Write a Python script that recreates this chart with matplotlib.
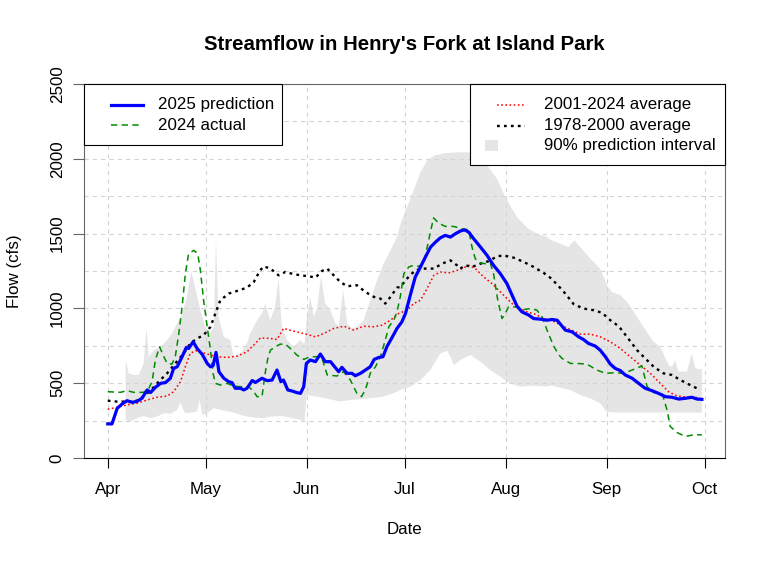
import numpy as np
import matplotlib
matplotlib.use("Agg")
import matplotlib.pyplot as plt
from matplotlib.patches import Rectangle
from matplotlib.lines import Line2D

plt.rcParams['font.family'] = ['Liberation Sans', 'DejaVu Sans']
plt.rcParams['lines.scale_dashes'] = False

# days since Apr 1
pred_days = [0, 1.3, 2.9, 4.4, 5.9, 7.5, 9, 10.5, 12.1, 13.1, 14.6, 16.2, 17.7, 19.2, 20.2, 21.3,
             22.8, 24.1, 24.8, 26.2, 27.4, 29, 30.5, 31.5, 32.3, 33.2, 34.1, 35.6, 37.1, 38.1, 39.1,
             40.7, 41.7, 42.7, 44.3, 45.3, 47.3, 48.9, 50.4, 51.9, 53.1, 53.9, 55.2, 56.5, 58, 59.1,
             60.1, 60.9, 62.1, 63.7, 65.2, 66.7, 68.3, 69.3, 70.8, 71.8, 73.4, 74.9, 75.9, 77.5, 79,
             80.5, 81.7, 83.1, 84.4, 85.6, 87.2, 88.7, 90.2, 91.3, 92.8, 94.3, 95.9, 97.4, 99, 100.5,
             102, 103.5, 105.1, 106.6, 108.1, 109.4, 110.7, 112.2, 114.3, 116.3, 118.3, 120.4, 122.4,
             124, 125.5, 127, 129.1, 130.6, 132.7, 134.7, 136.2, 137.8, 138.8, 140.3, 142.4, 144.4,
             145.9, 147.4, 149.5, 151, 152.6, 154.1, 155.6, 157.2, 158.7, 160.8, 162.8, 164.8, 166.9,
             168.9, 171, 173, 175.1, 177.1, 179.1, 180.7, 182.2]
pred_flow = [228, 228, 332, 361, 383, 372, 379, 399, 455, 437, 472, 499, 504, 533, 599, 610,
             677, 739, 732, 777, 732, 692, 632, 610, 617, 706, 577, 533, 510, 504, 466,
             466, 455, 466, 518, 505, 533, 517, 521, 588, 510, 521, 455, 448, 437, 432,
             477, 632, 655, 644, 695, 644, 644, 617, 577, 606, 566, 566, 550, 566, 588,
             610, 659, 672, 677, 744, 806, 866, 910, 966, 1090, 1210, 1277, 1343, 1410, 1443,
             1472, 1488, 1477, 1499, 1517, 1525, 1510, 1466, 1410, 1355, 1288, 1232, 1166,
             1088, 1015, 977, 955, 932, 928, 921, 926, 921, 895, 855, 843, 810,
             792, 766, 748, 721, 677, 628, 599, 584, 555, 533, 499, 466, 450,
             432, 410, 406, 394, 399, 406, 394, 392]

act_days = [0, 3.9, 5.9, 8, 11, 12.6, 13.6, 14.6, 15.9, 17.2, 18.2, 19.7, 20.7, 21.8, 22.8, 23.8,
            24.8, 26.4, 27.6, 28.4, 29.4, 30.5, 31.5, 32.3, 33, 34.5, 36.6, 38.6, 40.7, 43.2, 44.8,
            45.8, 47.3, 48.5, 49.2, 49.9, 51.4, 52.9, 54.5, 56, 58, 60.1, 62.1, 64.2, 65.7, 67.3,
            70.3, 72.3, 74.4, 76.4, 77.8, 79, 80.5, 82.1, 83.6, 85.1, 86.2, 87.7, 88.7, 89.7, 90.8,
            92.3, 93.8, 95.3, 96.9, 98.4, 99.9, 101.5, 103.5, 106.1, 108.6, 110.7, 111.7, 112.7,
            114.3, 115.8, 117.3, 118.3, 119.6, 120.9, 121.9, 122.9, 125, 127.5, 129.6, 131.6, 133.2,
            134.7, 136.7, 138.3, 139.3, 141.9, 143.9, 146.9, 150, 152.6, 155.6, 158.2, 160.8, 163.8,
            165.4, 167.4, 170, 171.5, 172.5, 174.6, 177.1, 179.7, 182.2]
act_flow = [443, 439, 450, 439, 439, 466, 510, 655, 743, 677, 632, 628, 677, 832, 1010, 1232,
            1366, 1388, 1366, 1255, 1054, 877, 721, 566, 499, 488, 499, 481, 477, 477, 443,
            410, 410, 600, 677, 721, 744, 761, 761, 732, 688, 659, 677, 677, 666, 555,
            548, 577, 521, 432, 410, 455, 566, 610, 677, 788, 877, 921, 977, 1077, 1232,
            1277, 1288, 1281, 1299, 1455, 1605, 1570, 1548, 1548, 1532, 1525, 1410, 1332,
            1303, 1299, 1303, 1232, 1055, 932, 966, 1010, 1010, 992, 999, 988, 943,
            855, 750, 690, 666, 632, 632, 628, 588, 566, 570, 566, 588, 615,
            477, 437, 432, 321, 210, 170, 144, 155, 155]

avg01_days = [0, 2.9, 5.9, 9, 12.1, 15.1, 18.2, 20.2, 22.3, 23.8, 25.3, 26.9, 28.4, 30.5, 33.5,
              36.6, 39.7, 42.7, 45.3, 46.8, 49.9, 51.9, 53.9, 57, 60.1, 63.7, 66.2, 69.3, 72.4,
              75.4, 78.5, 81.6, 84.1, 86.7, 89.2, 91.8, 93.8, 95.9, 97.9, 100, 102, 104.5, 106.6,
              108.6, 110.7, 112.7, 115.3, 117.8, 119.9, 121.9, 124, 126, 128.6, 131.1, 133.7,
              136.2, 138.8, 141.8, 144.9, 148, 151, 154.1, 157.2, 160.2, 163.3, 166.4, 169.4,
              172, 174.5, 177.6, 180.2, 182.2]
avg01_flow = [326, 339, 355, 366, 388, 406, 414, 443, 510, 610, 699, 717, 710, 695, 677,
              672, 681, 710, 766, 803, 799, 792, 866, 848, 832, 810, 832, 866, 881,
              855, 881, 877, 888, 921, 966, 988, 1032, 1054, 1132, 1221, 1243, 1237, 1250,
              1266, 1288, 1266, 1210, 1166, 1121, 1077, 1032, 999, 977, 961, 932,
              919, 890, 859, 828, 828, 810, 777, 732, 677, 621, 566, 499,
              443, 415, 406, 406, 394]

avg78_days = [0, 2.9, 5.9, 9, 11, 13.1, 15.6, 18.2, 20.7, 23.3, 25.3, 27.4, 29.4, 31.5, 33, 34.5,
              37.1, 39.7, 42.7, 44.8, 46.6, 47.8, 49.9, 52.4, 54.5, 56.5, 59.1, 61.6, 63.7, 65.7,
              67.3, 69.3, 71.3, 73.4, 76.4, 79, 81.6, 83.6, 85.1, 86.7, 88.7, 89.7, 91.8, 94.3,
              96.9, 100, 102.5, 105.1, 107.1, 108.1, 109.7, 111.7, 114.3, 116.8, 119.4, 121.4,
              124.5, 127.6, 130.6, 133.7, 135.7, 137.8, 140.3, 142.9, 145.9, 149, 151.6, 154.1,
              156.7, 159.2, 162.3, 164.8, 167.4, 170.4, 173, 175.6, 178.6, 181.7]
avg78_flow = [383, 377, 377, 383, 414, 450, 510, 566, 632, 699, 766, 799, 821, 877, 966, 1054,
              1099, 1117, 1139, 1177, 1250, 1281, 1266, 1221, 1244, 1232, 1221, 1215, 1206, 1250,
              1266, 1221, 1177, 1148, 1155, 1110, 1077, 1066, 1032, 1077, 1139, 1143, 1200, 1255,
              1266, 1266, 1299, 1321, 1288, 1266, 1288, 1277, 1299, 1316, 1348, 1354,
              1339, 1310, 1277, 1237, 1205, 1160, 1099, 1028, 999, 988, 970, 921,
              881, 810, 721, 666, 610, 566, 555, 521, 488, 455]

# 90% prediction interval, upper and lower edges
hi_days = [5.5, 6.4, 8, 9.5, 11, 11.9, 12.6, 14.1, 16.2, 18.2, 19.7, 21.3, 22.8, 24.3, 25.6, 26.9,
           28.4, 29.9, 31.5, 32.5, 33.2, 34, 35.6, 37.6, 38.6, 40.7, 42.7, 43.7, 45.8, 47.3, 48.3,
           49.8, 51.2, 52.4, 53.4, 55, 57, 59, 60.3, 61.1, 62.1, 63.2, 64.2, 65.4, 66.7, 68.3,
           69.8, 70.8, 72.2, 73.4, 74.9, 76.4, 78.5, 80.5, 82.6, 84.6, 86.7, 88.7, 89.7, 91.8,
           93.8, 95.9, 97.9, 100, 103, 107.1, 111.2, 114.3, 116.8, 119.4, 121.4, 123.4, 125.5,
           128.6, 131.6, 134.7, 135.7, 138.8, 141.3, 143.1, 144.9, 148, 151, 153.1, 154.6, 157.2,
           159.7, 162.3, 165.3, 167.4, 169.4, 172, 173, 174, 175, 177.6, 179.1, 180.2, 182.2]
hi_flow = [655, 566, 555, 555, 632, 866, 677, 721, 743, 788, 832, 899, 966, 1077, 1250, 1132,
           988, 877, 832, 877, 1455, 943, 810, 788, 677, 699, 766, 832, 921, 966, 1032,
           921, 1000, 1199, 877, 788, 743, 788, 760, 943, 1077, 943, 1000, 1215, 1032, 988,
           899, 880, 1121, 899, 866, 877, 921, 1054, 1188, 1299, 1388, 1477, 1560, 1677,
           1788, 1910, 1988, 2021, 2037, 2043, 2043, 2010, 1943, 1866, 1766, 1688, 1610,
           1539, 1499, 1477, 1459, 1432, 1410, 1455, 1410, 1332, 1266, 1155, 1110, 1088,
           1032, 943, 843, 777, 743, 621, 610, 655, 577, 577, 699, 599, 592]

lo_days = [5.5, 6.9, 9, 11, 13.1, 15.1, 17.2, 19.2, 21.3, 22.3, 23, 23.8, 27.4, 28.2, 29, 30.5,
           32.5, 34.5, 38.6, 40.7, 42.7, 45, 47.8, 50, 53, 56, 59, 60.3, 61, 64.2, 68.3, 71.3,
           74.4, 77.5, 80.5, 84.6, 88.7, 89.7, 92.8, 95.9, 98.9, 102, 104.1, 105.1, 106.1, 108.1,
           111.2, 114.3, 117.3, 120.4, 123.4, 126.5, 130.6, 134.7, 136, 138.8, 141.8, 144.9, 148,
           151, 152.9, 156, 166.4, 182.2]
lo_flow = [255, 244, 266, 281, 266, 277, 299, 295, 322, 370, 330, 299, 310, 388, 288, 299,
           333, 322, 305, 288, 277, 270, 266, 277, 281, 270, 255, 240, 420, 410, 392, 377,
           388, 392, 399, 410, 443, 455, 477, 521, 588, 699, 717, 677, 621, 655,
           688, 644, 588, 543, 499, 477, 484, 477, 485, 470, 455, 421, 399,
           366, 310, 304, 304, 304]

month_days = [0, 30, 61, 91, 122, 153, 183]
month_labels = ['Apr', 'May', 'Jun', 'Jul', 'Aug', 'Sep', 'Oct']
flow_ticks = [0, 500, 1000, 1500, 2000, 2500]

W, H = 768, 563
fig = plt.figure(figsize=(W / 100, H / 100), dpi=100)
ax = fig.add_axes([84 / W, 1 - 458 / H, (725 - 84) / W, (458 - 84) / H])

# prediction band
ax.fill(np.r_[hi_days, lo_days[::-1]], np.r_[hi_flow, lo_flow[::-1]],
        color='#e5e5e5', lw=0, zorder=1)

# grid
for d in month_days:
    ax.axvline(d, color='#d3d3d3', lw=0.8, dashes=(3, 3), zorder=1.5)
for f in np.arange(0, 2501, 250):
    ax.axhline(f, color='#d3d3d3', lw=0.8, dashes=(3, 3), zorder=1.5)

ax.plot(avg01_days, avg01_flow, color='red', lw=1.1, dashes=(1.2, 1.8), zorder=2)
ax.plot(avg78_days, avg78_flow, color='black', lw=1.7, dashes=(2.0, 3.0), zorder=2)
ax.plot(act_days, act_flow, color='#008b00', lw=1.1, dashes=(4.5, 3.2), zorder=3)
ax.plot(pred_days, pred_flow, color='blue', lw=2.3, zorder=4)

ax.set_xlim(-0.04 * 182, 182 * 1.04)
ax.set_ylim(0, 2500)
ax.set_xticks(month_days)
ax.set_xticklabels(month_labels)
ax.set_yticks(flow_ticks)
ax.set_yticklabels([str(v) for v in flow_ticks], rotation=90, va='center')
ax.tick_params(axis='x', length=7.2, width=0.8, pad=10, labelsize=12.2, color='black')
ax.tick_params(axis='y', length=7.8, width=0.8, pad=6, labelsize=12.2, color='#666666')
for s in ['left', 'top', 'right']:
    ax.spines[s].set_color('#666666')
    ax.spines[s].set_linewidth(0.8)
ax.spines['bottom'].set_color('black')
ax.spines['bottom'].set_linewidth(0.8)

fig.text(404.5 / W, 1 - 44 / H, "Streamflow in Henry's Fork at Island Park",
         ha='center', va='center', fontsize=14.7, fontweight='bold')
fig.text(404.5 / W, 1 - 530 / H, 'Date', ha='center', va='center', fontsize=12.2)
fig.text(15 / W, 1 - 271 / H, 'Flow (cfs)', ha='center', va='center',
         rotation=90, fontsize=12.2)


# legends drawn in pixel units
def px(x, y):
    return x / W, 1 - y / H


def frame(x0, y0, x1, y1):
    fig.add_artist(Rectangle(px(x0, y1), (x1 - x0) / W, (y1 - y0) / H,
                             transform=fig.transFigure, facecolor='white',
                             edgecolor='black', lw=0.8, zorder=5))


def sample(x0, x1, y, **kw):
    (a, b), (c, d) = px(x0, y), px(x1, y)
    fig.add_artist(Line2D([a, c], [b, d], transform=fig.transFigure, zorder=6, **kw))


def label(x, y, s):
    fig.text(*px(x, y), s, ha='left', va='center', fontsize=12.2, zorder=6)


frame(84, 84, 282, 145)
sample(111, 143, 105, color='blue', lw=2.3)
label(158, 105, '2025 prediction')
sample(111, 143, 125, color='#008b00', lw=1.1, dashes=(4.5, 3.2))
label(158, 125, '2024 actual')

frame(470, 84, 725, 165)
sample(497, 525, 105, color='red', lw=1.1, dashes=(1.2, 1.8))
label(544, 105, '2001-2024 average')
sample(497, 525, 125.5, color='black', lw=1.7, dashes=(2.0, 3.0))
label(544, 125.5, '1978-2000 average')
fig.add_artist(Rectangle(px(485, 151), 13 / W, 11 / H, transform=fig.transFigure,
                         facecolor='#e5e5e5', lw=0, zorder=6))
label(544, 145.7, '90% prediction interval')

fig.savefig('out.png', dpi=100)
